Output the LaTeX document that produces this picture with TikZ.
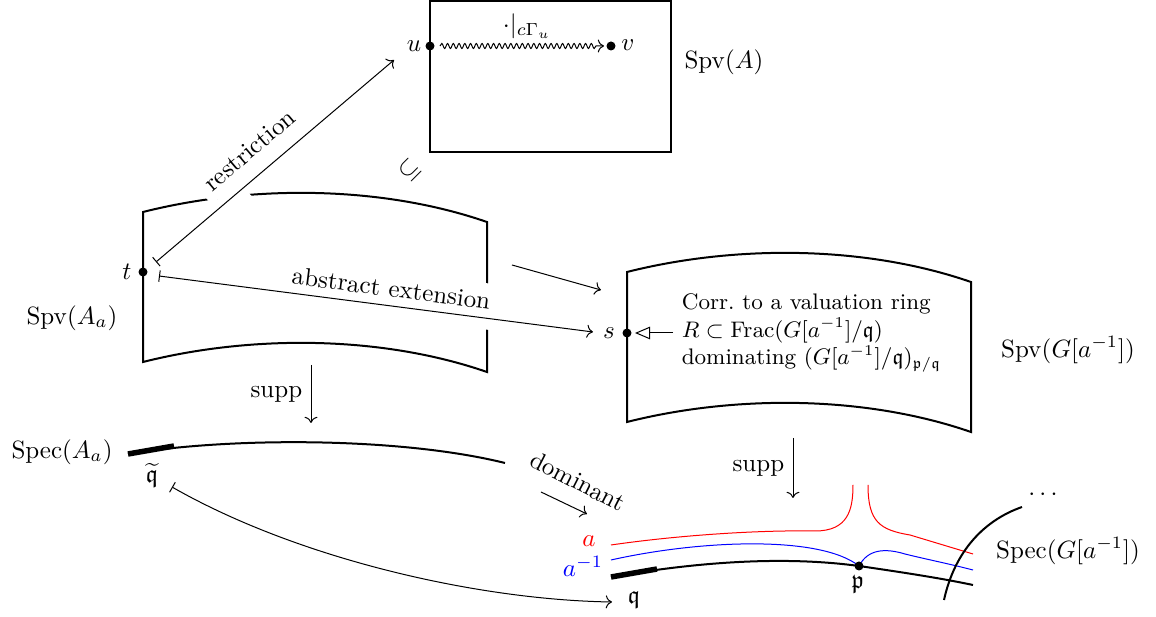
\documentclass[tikz,border=0pt]{standalone}
\usepackage{amsmath,amssymb}
\usetikzlibrary{arrows.meta,decorations.pathmorphing,calc}
\begin{document}
\begin{tikzpicture}[x=0.4pt,y=-0.4pt,
  edgeline/.style={line width=0.8pt},
  thickseg/.style={line width=2.2pt},
  dot/.style={circle,fill,inner sep=0pt,minimum size=3.6pt},
  halo/.style={white,line width=9pt},
  wavy/.style={->,decorate,decoration={snake,amplitude=1pt,segment length=2.3pt,post length=2.5pt}}]
\useasboundingbox (0,0) rectangle (1156,617);

% ---- Spv(A)
\draw[edgeline] (430,1) rectangle (671,152);
\node[dot] (u) at (430,46) {};
\node[dot] (v) at (611,46) {};
\node (ulab) at (414,46) {$u$};
\node (vlab) at (628,45) {$v$};
\coordinate (uw) at (440,46);
\coordinate (vw) at (604,46);
\draw[wavy] (uw) -- (vw);
\node (res) at (527,26) {$\cdot|_{c\Gamma_u}$};
\node (spvA) at (724,62) {$\mathrm{Spv}(A)$};
\node[rotate=45] (sub) at (410,170) {$\subseteq$};

% ---- Spv(A_a)
\draw[edgeline] (487,222) .. controls (380,185) and (250,185) .. (143,212)
  -- (143,362) .. controls (250,335) and (380,335) .. (487,372) -- cycle;
\node[dot] (t) at (143,272) {};
\node (tlab) at (127,272) {$t$};
\node (spvAa) at (72,318) {$\mathrm{Spv}(A_a)$};

% ---- Spv(G[a^-1])
\begin{scope}[shift={(484,60)}]
\draw[edgeline] (487,222) .. controls (380,185) and (250,185) .. (143,212)
  -- (143,362) .. controls (250,335) and (380,335) .. (487,372) -- cycle;
\end{scope}
\node[dot] (s) at (627,333) {};
\node (slab) at (609,333) {$s$};
\node[font=\small,align=left,anchor=west] (corr) at (673,333)
  {Corr.\ to a valuation ring\\ $R\subset \mathrm{Frac}(G[a^{-1}]/\mathfrak q)$\\ dominating $(G[a^{-1}]/\mathfrak q)_{\mathfrak p/\mathfrak q}$};
\draw[-{Triangle[open,length=6pt,width=5pt]},shorten >=1.2pt] (corr.west) -- (s);
\node (spvG) at (1068,350) {$\mathrm{Spv}(G[a^{-1}])$};

% ---- restriction
\coordinate (rs) at (156,262);
\coordinate (re) at (394,60);
\draw[halo] ($(rs)!0.28!(re)$) -- ($(rs)!0.37!(re)$);
\path (rs) -- node[sloped,above=3pt,pos=0.46,fill=white] (reslab) {restriction} (re);
\draw[|->] (rs) -- (re);

% ---- abstract extension
\coordinate (as) at (159,276);
\coordinate (ae) at (593,332);
\draw[halo] ($(as)!0.70!(ae)$) -- ($(as)!0.80!(ae)$);
\path (as) -- node[sloped,above,pos=0.53,fill=white] (abslab) {abstract extension} (ae);
\draw[|->] (as) -- (ae);

% ---- box to box
\coordinate (lr1) at (512,265);
\coordinate (lr2) at (601,290);
\draw[->] (lr1) -- (lr2);

% ---- supp arrows
\coordinate (sl1) at (311,365);
\coordinate (sl2) at (311,423);
\draw[->] (sl1) -- node[left] (supp1) {supp} (sl2);
\coordinate (sr1) at (793,438);
\coordinate (sr2) at (793,498);
\draw[->] (sr1) -- node[left] (supp2) {supp} (sr2);

% ---- Spec(A_a)
\draw[edgeline] (128,454) .. controls (230,437) and (400,437) .. (505,463);
\draw[thickseg] (128,454) -- (174,446);
\node (specAa) at (62,452) {$\mathrm{Spec}(A_a)$};
\node (qt) at (152,475) {$\widetilde{\mathfrak q}$};

% ---- dominant
\node[rotate=-27] (dom) at (578,481) {dominant};
\coordinate (d1) at (541,492);
\coordinate (d2) at (587,514);
\draw[->] (d1) -- (d2);

% ---- Spec(G[a^-1])
\draw[red] (611,545) .. controls (680,535) and (760,530) .. (815,531)
  .. controls (848,531) and (853,510) .. (853,485);
\draw[red] (868,485) .. controls (868,522) and (880,530) .. (910,535) -- (973,554);
\draw[blue] (611,560) .. controls (700,540) and (820,535) .. (859,566)
  .. controls (868,549) and (885,548) .. (905,554)
  .. controls (925,559) and (950,564) .. (973,570);
\draw[edgeline] (611,577) .. controls (720,558) and (800,558) .. (859,566)
  .. controls (900,572) and (940,578) .. (973,585);
\draw[thickseg] (611,577) -- (657,569);
\node[dot] (p) at (859,566) {};
\node (plab) at (858,584) {$\mathfrak p$};
\node (q) at (634,600) {$\mathfrak q$};
\node[text=red] (alab) at (589,541) {$a$};
\node[text=blue] (ailab) at (583,566) {$a^{-1}$};
\draw[edgeline] (944,600) .. controls (955,550) and (985,520) .. (1022,507);
\node (dots) at (1045,495) {$\cdots$};
\node (specG) at (1068,551) {$\mathrm{Spec}(G[a^{-1}])$};

% ---- q tilde to q
\coordinate (qs) at (172,487);
\coordinate (qe) at (612,602);
\draw[|->] (qs) .. controls (300,560) and (480,600) .. (qe);
\end{tikzpicture}
\end{document}
